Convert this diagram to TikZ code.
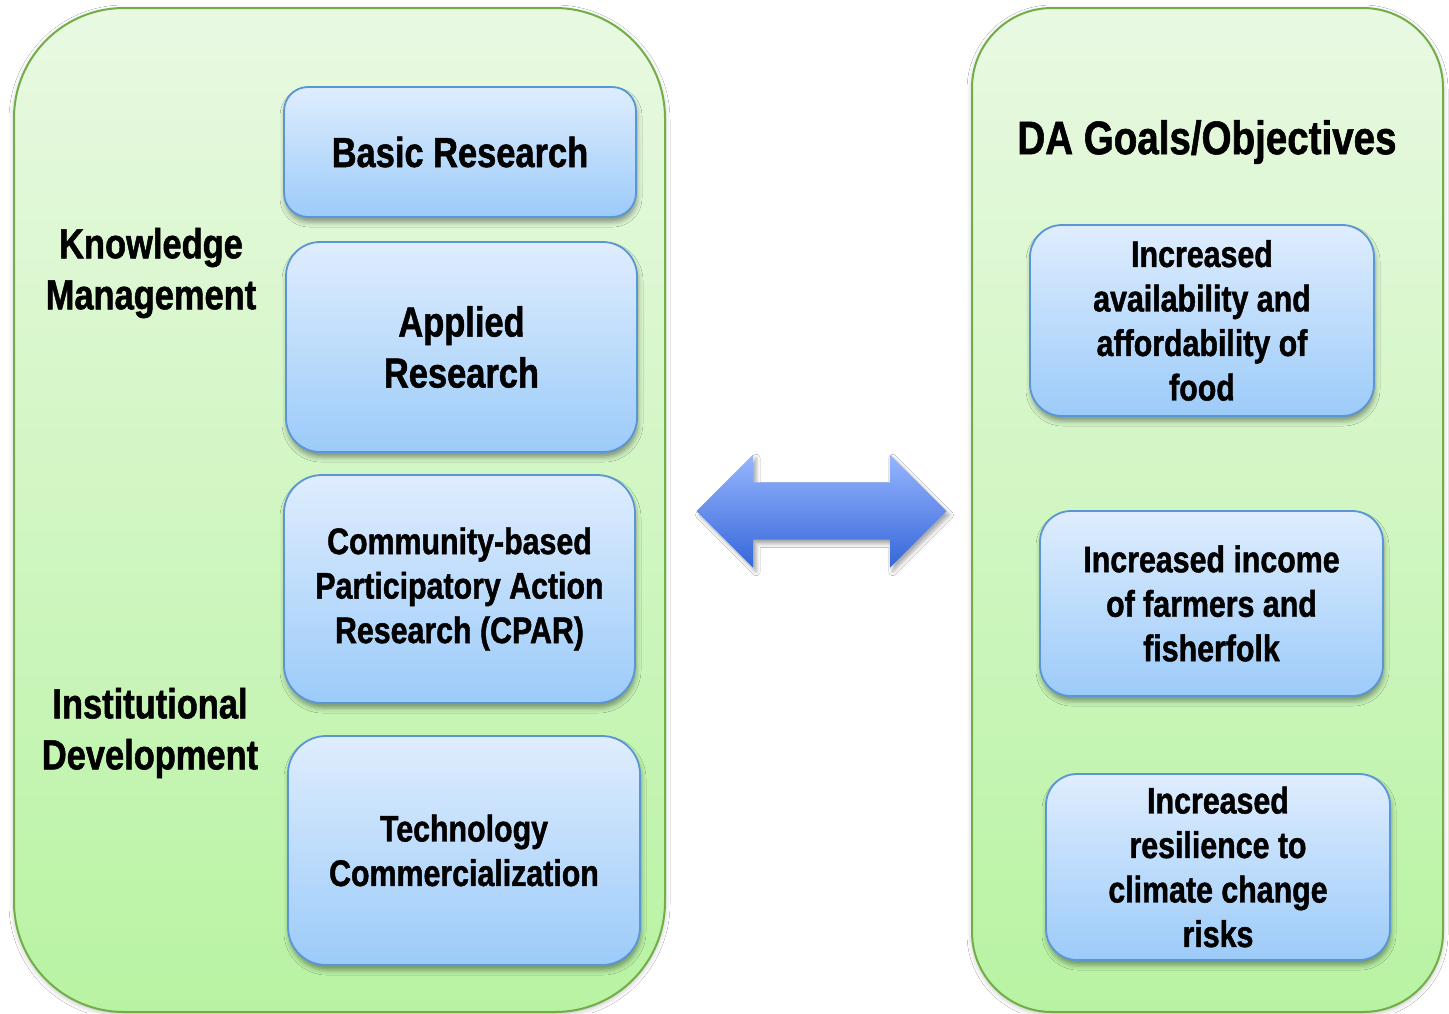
\documentclass[tikz,border=0pt]{standalone}
\usepackage{fontspec}
\setmainfont{Liberation Sans}[FakeStretch=0.82, BoldFeatures={FakeBold=1.2}]
\usetikzlibrary{shapes.arrows,shadows.blur}
\definecolor{panelTop}{HTML}{E9F9E2}
\definecolor{panelBot}{HTML}{B8F3A2}
\definecolor{panelLine}{HTML}{72AE48}
\definecolor{boxTop}{HTML}{DFEDFE}
\definecolor{boxBot}{HTML}{9CCBF9}
\definecolor{boxLine}{HTML}{5A95D6}
\definecolor{arrTop}{HTML}{97B6FF}
\definecolor{arrBot}{HTML}{3567D8}
\begin{document}
\begin{tikzpicture}[x=1pt,y=-1pt,
  panel/.style={draw=panelLine, line width=2pt, top color=panelTop, bottom color=panelBot,
    blur shadow={shadow xshift=0pt, shadow yshift=-2pt, shadow blur radius=5pt, shadow opacity=25}},
  bluebox/.style={draw=boxLine, line width=1.8pt, top color=boxTop, bottom color=boxBot,
    align=center, inner sep=0pt, font=\bfseries\fontsize{37}{44.5}\selectfont,
    blur shadow={shadow xshift=1pt, shadow yshift=-5pt, shadow blur radius=5pt, shadow opacity=40}},
  bigbox/.style={bluebox, font=\bfseries\fontsize{42}{51}\selectfont},
  label/.style={align=center, inner sep=0pt, font=\bfseries\fontsize{42}{51}\selectfont},
  darrow/.style={double arrow, draw=none, inner xsep=0pt, inner ysep=28.5pt, minimum height=250pt, minimum width=113pt,
    double arrow head extend=28pt, double arrow tip angle=90, top color=arrTop, bottom color=arrBot,
    blur shadow={shadow xshift=3pt, shadow yshift=-4pt, shadow blur radius=4pt, shadow opacity=35}}
]
\useasboundingbox (0,0) rectangle (1449,1013);
\fill[white] (0,0) rectangle (1449,1013);

% panels
\node[panel, minimum width=651pt, minimum height=1004pt, rounded corners=110pt] (leftpanel) at (339.5,510) {};
\node[panel, minimum width=471pt, minimum height=1004pt, rounded corners=80pt] (rightpanel) at (1207.5,510) {};

% left boxes
\node[bigbox, minimum width=352pt, minimum height=130pt, rounded corners=24pt] (basic) at (460,152) {Basic Research};
\node[bigbox, minimum width=351pt, minimum height=210pt, rounded corners=34pt] (applied) at (461.5,347) {Applied\\Research};
\node[bluebox, minimum width=351pt, minimum height=228pt, rounded corners=38pt] (cpar) at (459.5,589) {Community-based\\Participatory Action\\Research (CPAR)};
\node[bluebox, minimum width=352pt, minimum height=229pt, rounded corners=38pt] (tech) at (464,850.5) {Technology\\Commercialization};

% left labels
\node[label] (km) at (151,273) {Knowledge\\Management};
\node[label] (id) at (150,733) {Institutional\\Development};

% right title
\node[label, font=\bfseries\fontsize{47}{52}\selectfont] (goals) at (1207,142) {DA Goals/Objectives};

% right boxes
\node[bluebox, minimum width=344pt, minimum height=191pt, rounded corners=32pt] (food) at (1202,320.5) {Increased\\availability and\\affordability of\\food};
\node[bluebox, minimum width=343pt, minimum height=185pt, rounded corners=31pt] (income) at (1211.5,603.5) {Increased income\\of farmers and\\fisherfolk};
\node[bluebox, minimum width=344pt, minimum height=186pt, rounded corners=31pt] (resil) at (1218,867) {Increased\\resilience to\\climate change\\risks};

% double arrow
\node[darrow] (arr) at (821.5,511) {};
\end{tikzpicture}
\end{document}
